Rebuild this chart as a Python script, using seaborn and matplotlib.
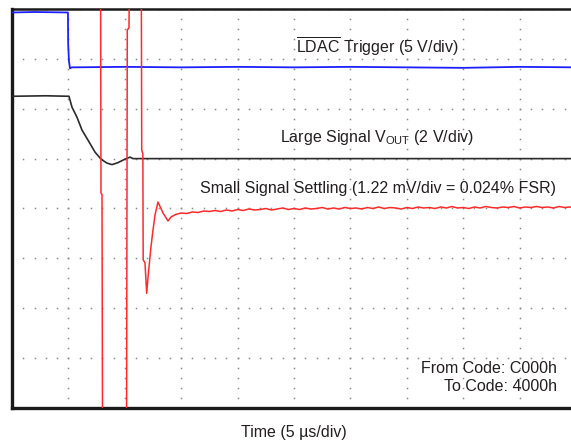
import numpy as np
import matplotlib
matplotlib.use("Agg")
import matplotlib.pyplot as plt
import seaborn as sns

# time in us (5 us/div), level in scope divisions (0 = bottom, 8 = top)
ldac_t = [0.0, 2.0, 4.96, 4.98, 5.05, 5.14, 5.30, 10.0, 15.0, 20.0, 25.0, 30.0, 35.0, 40.0, 45.0, 50.0]
ldac_v = [7.93, 7.94, 7.93, 7.29, 6.96, 6.81, 6.83, 6.84, 6.83, 6.84, 6.83, 6.84, 6.83, 6.82, 6.84, 6.83]

vout_t = [0.0, 3.0, 5.05, 5.32, 5.76, 6.21, 6.74, 7.36, 7.89, 8.42, 8.87, 9.40, 10.02, 10.46, 10.73, 11.5, 50.0]
vout_v = [6.25, 6.26, 6.25, 6.03, 5.83, 5.57, 5.37, 5.13, 4.99, 4.91, 4.88, 4.92, 4.99, 5.03, 5.00, 5.00, 5.00]

small_t = [0.0, 7.85, 7.89, 7.98, 8.03, 10.15, 10.22, 10.37, 10.42, 11.46, 11.50, 11.60, 11.63,
           11.79, 11.94, 12.06, 12.32, 12.50, 12.68, 12.94, 13.39, 13.83, 14.10]
small_v = [9.0, 9.0, 4.31, 4.28, -1.0, -1.0, 7.58, 7.62, 9.0, 9.0, 5.17, 5.10, 2.97,
           2.91, 2.30, 2.63, 3.23, 3.57, 3.87, 4.13, 3.91, 3.75, 3.83]
settle_t = list(np.arange(14.5, 50.1, 0.5))
settle_v = [3.88, 3.91, 3.90, 3.93, 3.92, 3.95, 3.94, 3.96, 3.94, 3.97, 3.95,
            3.98, 3.96, 3.99, 3.97, 3.98, 4.00, 3.97, 3.99, 4.01, 3.98,
            4.00, 3.98, 4.01, 3.99, 4.00, 4.02, 3.99, 4.01, 3.99, 4.02,
            4.00, 4.01, 3.99, 4.02, 4.00, 4.03, 4.00, 4.02, 4.01, 3.99,
            4.02, 4.00, 4.03, 4.01, 4.02, 4.00, 4.03, 4.01, 4.04, 4.01,
            4.02, 4.00, 4.03, 4.01, 4.04, 4.02, 4.01, 4.03, 4.02, 4.04,
            4.01, 4.03, 4.02, 4.04, 4.02, 4.03, 4.01, 4.04, 4.02, 4.03, 4.02]

sns.set_style("white")
plt.rcParams['font.family'] = ['Liberation Sans', 'DejaVu Sans']
plt.rcParams['mathtext.fontset'] = 'custom'
plt.rcParams['mathtext.rm'] = 'Liberation Sans'
plt.rcParams['mathtext.it'] = 'Liberation Sans:italic'

txt = '#231f20'
fig = plt.figure(figsize=(5.71, 4.40), dpi=100)
ax = fig.add_axes([12 / 571, 1 - 408 / 440, 564 / 571, 399 / 440])

# scope graticule: dotted major lines
gx = np.arange(0, 50.01, 1.0)
gy = np.arange(0, 8.001, 0.2)
for xv in np.arange(0, 50.1, 5):
    ax.plot(np.full_like(gy, xv), gy, ls='none', marker='s', ms=1.1, mew=0, color='#8c8c8c', zorder=1)
for yv in range(0, 9):
    ax.plot(gx, np.full_like(gx, yv), ls='none', marker='s', ms=1.1, mew=0, color='#8c8c8c', zorder=1)

sns.lineplot(x=ldac_t, y=ldac_v, sort=False, estimator=None, color='#1f1fff', lw=1.3, ax=ax, zorder=3)
sns.lineplot(x=vout_t, y=vout_v, sort=False, estimator=None, color='#2b2b2b', lw=1.2, ax=ax, zorder=3)
sns.lineplot(x=small_t + settle_t, y=small_v + settle_v, sort=False, estimator=None,
             color='#ff2a2a', lw=1.1, ax=ax, zorder=4)

ax.set_xlim(0, 50)
ax.set_ylim(0, 8)
ax.set_xticks([])
ax.set_yticks([])
ax.set_xlabel('')
ax.set_ylabel('')
for s in ['left', 'bottom']:
    ax.spines[s].set_linewidth(2.4)
    ax.spines[s].set_color('#1a1a1a')
ax.spines['top'].set_linewidth(1.8)
ax.spines['top'].set_color('#1a1a1a')
ax.spines['right'].set_visible(False)

fs = 11.5
ax.text(25.18, 7.12, r'$\overline{\mathrm{LDAC}}$ Trigger (5 V/div)', fontsize=fs, color=txt,
        ha='left', va='baseline', zorder=5)
ax.text(23.76, 5.34, r'Large Signal V$_{\mathrm{OUT}}$ (2 V/div)', fontsize=fs, color=txt,
        ha='left', va='baseline', zorder=5)
ax.text(16.67, 4.31, 'Small Signal Settling (1.22 mV/div = 0.024% FSR)', fontsize=fs, color=txt,
        ha='left', va='baseline', zorder=5)
ax.text(48.31, 0.70, 'From Code: C000h', fontsize=fs, color=txt, ha='right', va='baseline', zorder=5)
ax.text(48.31, 0.34, 'To Code: 4000h', fontsize=fs, color=txt, ha='right', va='baseline', zorder=5)
fig.text(294 / 571, 3.5 / 440, 'Time (5 µs/div)', fontsize=fs, color=txt, ha='center', va='baseline')

fig.savefig('out.png', dpi=100)
